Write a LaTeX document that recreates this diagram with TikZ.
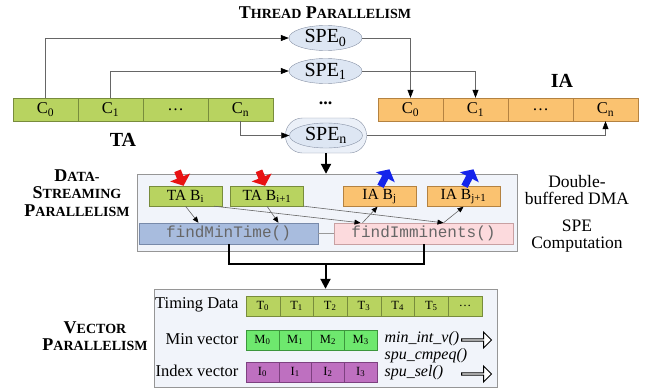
\documentclass[tikz,border=0pt]{standalone}
\usepackage{fontspec}
\setmainfont{Liberation Serif}
\setmonofont{Liberation Mono}
\usetikzlibrary{shapes.geometric,shapes.arrows,arrows.meta}

\definecolor{tagreen}{RGB}{184,211,96}
\definecolor{taline}{RGB}{120,140,60}
\definecolor{iaorange}{RGB}{250,194,112}
\definecolor{ialine}{RGB}{180,130,65}
\definecolor{spefill}{RGB}{221,230,243}
\definecolor{speline}{RGB}{135,145,165}
\definecolor{boxfill}{RGB}{241,244,250}
\definecolor{boxline}{RGB}{150,150,150}
\definecolor{minfill}{RGB}{168,188,222}
\definecolor{minline}{RGB}{120,138,170}
\definecolor{immfill}{RGB}{252,218,221}
\definecolor{immline}{RGB}{200,160,162}
\definecolor{mgreen}{RGB}{110,232,110}
\definecolor{mline}{RGB}{60,150,60}
\definecolor{ipurple}{RGB}{190,112,192}
\definecolor{iline}{RGB}{125,65,128}
\definecolor{dmared}{RGB}{232,18,18}
\definecolor{dmablue}{RGB}{20,36,235}

% fake small caps: big first letter, smaller rest
\newcommand{\fakesc}[2]{{\fontsize{18}{20}\selectfont #1}{\fontsize{14}{16}\selectfont #2}}

\begin{document}
\begin{tikzpicture}[x=1pt, y=-1pt, >={Triangle[length=8pt,width=6pt,color=black]}]
        \tikzstyle{title}=[font=\bfseries\fontsize{18}{17.5}\selectfont, align=center, inner sep=0]
        \tikzstyle{link}=[draw=black!60, line width=0.6pt]
        \tikzstyle{bus}=[draw=black, line width=2pt]
        \tikzstyle{tacell}=[draw=taline, fill=tagreen, minimum width=65pt, minimum height=23pt, inner sep=0, font=\fontsize{16.5}{18}\selectfont]
        \tikzstyle{iacell}=[tacell, draw=ialine, fill=iaorange]
        \tikzstyle{spe}=[draw=speline, fill=spefill, shape=ellipse, minimum width=73pt, minimum height=25pt, inner sep=0, font=\fontsize{20}{21}\selectfont]
        \tikzstyle{buf}=[draw=taline, fill=tagreen, minimum width=73pt, minimum height=20pt, inner sep=0, font=\fontsize{15.5}{17}\selectfont]
        \tikzstyle{func}=[minimum width=179pt, minimum height=21pt, inner sep=0, text=black!60, font=\ttfamily\fontsize{16}{18}\selectfont]
        \tikzstyle{panel}=[draw=boxline, fill=boxfill, inner sep=0]
        \tikzstyle{vcell}=[draw=taline, fill=tagreen, minimum width=33.7pt, minimum height=20pt, inner sep=0, font=\fontsize{12.5}{14}\selectfont]
        \tikzstyle{fetch}=[dmared, line width=7pt, -{Triangle[length=9pt,width=21pt]}]
        \tikzstyle{store}=[dmablue, line width=7pt, -{Triangle[length=9pt,width=21pt]}]
        \tikzstyle{hollow}=[draw=black, fill=white, shape=single arrow, minimum height=30pt, minimum width=16pt, single arrow head extend=6pt, inner sep=0.5pt, line width=0.9pt]

        \useasboundingbox (0,0) rectangle (646,391);

        % thread parallelism
        \node[title](thread) at (325,13){\fakesc{T}{HREAD} \fakesc{P}{ARALLELISM}};

        \foreach \lab [count=\k from 0] in {C\textsubscript{0},C\textsubscript{1},\dots,C\textsubscript{n}}
            \node[tacell](ta\k) at (45.5+65*\k,109.5){\lab};
        \foreach \lab [count=\k from 0] in {C\textsubscript{0},C\textsubscript{1},\dots,C\textsubscript{n}}
            \node[iacell](ia\k) at (410.5+65*\k,109.5){\lab};
        \node[font=\bfseries\fontsize{20}{22}\selectfont](talab) at (123,140){TA};
        \node[font=\bfseries\fontsize{20}{22}\selectfont](ialab) at (562,81){IA};

        \node[spe](spe0) at (325.5,38){SPE\textsubscript{0}};
        \node[spe](spe1) at (325.5,71){SPE\textsubscript{1}};
        \node[font=\bfseries\fontsize{18}{19}\selectfont](more) at (325.5,103){...};
        \node[draw=speline, fill=spefill!60, rounded corners=17pt, minimum width=81pt, minimum height=35pt](spebox) at (326,135.5){};
        \node[spe](spen) at (326,135.5){SPE\textsubscript{n}};

        \draw[->, link] (ta0.north) |- (spe0.west);
        \draw[->, link] (ta1.north) |- (spe1.west);
        \draw[->, link] (ta3.south) |- (spen.west);
        \draw[->, link] (spe0.east) -| (ia0.north);
        \draw[->, link] (spe1.east) -| (ia1.north);
        \draw[->, link] (spebox.east) -| (ia3.south);

        % data-streaming parallelism
        \node[title](dstream) at (77,193){\fakesc{D}{ATA-}\\\fakesc{S}{TREAMING}\\\fakesc{P}{ARALLELISM}};
        \node[panel, minimum width=380pt, minimum height=77pt](dma) at (327,212.5){};
        \draw[->, bus, >={Triangle[length=10pt,width=10pt]}] (spebox.south) -- (spebox.south |- dma.north);

        \node[buf](tab0) at (185.5,196){TA B\textsubscript{i}};
        \node[buf](tab1) at (267,196){TA B\textsubscript{i+1}};
        \node[buf, draw=ialine, fill=iaorange](iab0) at (379.5,196.5){IA B\textsubscript{j}};
        \node[buf, draw=ialine, fill=iaorange](iab1) at (463.5,196.5){IA B\textsubscript{j+1}};
        \node[func, draw=minline, fill=minfill](mint) at (228.5,233.5){findMinTime()};
        \node[func, draw=immline, fill=immfill](immi) at (423.5,233.5){findImminents()};

        \draw[fetch] ([shift={(-8pt,15pt)}]tab0.north) -- ([xshift=-2pt]tab0.north);
        \draw[fetch] ([shift={(-8pt,15pt)}]tab1.north) -- ([xshift=-2pt]tab1.north);
        \draw[store] ([xshift=1pt]iab0.north) -- ([shift={(10pt,17pt)}]iab0.north);
        \draw[store] ([xshift=1pt]iab1.north) -- ([shift={(10pt,17pt)}]iab1.north);

        \begin{scope}[>={Triangle[length=6pt,width=5pt,color=black]}]
        \draw[->, link] (tab0.south) -- ([xshift=-30pt]mint.north);
        \draw[->, link] (tab1.south) -- ([xshift=50pt]mint.north);
        \draw[->, link] ([xshift=-8pt]tab0.south east) -- ([xshift=-63pt]immi.north);
        \draw[->, link] (tab1.south east) -- ([xshift=20pt]immi.north);
        \draw[->, link] ([xshift=-61pt]immi.north) -- ([xshift=-2pt]iab0.south);
        \draw[->, link] ([xshift=20pt]immi.north) -- (iab1.south);
        \end{scope}
        \draw[link, draw=black!40] (mint.east) -- (immi.west);

        \node[align=center, font=\fontsize{17.5}{17.5}\selectfont](dmatxt) at (577,190){Double-\\buffered DMA};
        \node[align=center, font=\fontsize{17.5}{17.5}\selectfont](spetxt) at (577,236){SPE\\Computation};

        % vector parallelism
        \coordinate (merge) at (325.5,264);
        \draw[bus] (mint.south) |- (merge) -| (immi.south);
        \node[title](vector) at (95,336){\fakesc{V}{ECTOR}\\\fakesc{P}{ARALLELISM}};
        \node[panel, minimum width=343pt, minimum height=98pt](vec) at (325.5,338){};
        \draw[->, bus, >={Triangle[length=10pt,width=10pt]}] (merge) -- (merge |- vec.north);

        \node[anchor=east, font=\fontsize{16.5}{18}\selectfont](tlab) at (242,305){Timing Data};
        \node[anchor=east, font=\fontsize{16.5}{18}\selectfont](mlab) at (242,339){Min vector};
        \node[anchor=east, font=\fontsize{16.5}{18}\selectfont](ilab) at (242,371){Index vector};

        \foreach \lab [count=\k from 0] in {T\textsubscript{0},T\textsubscript{1},T\textsubscript{2},T\textsubscript{3},T\textsubscript{4},T\textsubscript{5},\dots}
            \node[vcell](t\k) at (262.85+33.7*\k,306){\lab};
        \foreach \lab [count=\k from 0] in {M\textsubscript{0},M\textsubscript{1},M\textsubscript{2},M\textsubscript{3}}
            \node[vcell, minimum width=32.75pt, draw=mline, fill=mgreen](m\k) at (262.4+32.75*\k,340){\lab};
        \foreach \lab [count=\k from 0] in {I\textsubscript{0},I\textsubscript{1},I\textsubscript{2},I\textsubscript{3}}
            \node[vcell, minimum width=32.75pt, draw=iline, fill=ipurple](i\k) at (262.4+32.75*\k,372){\lab};

        \node[anchor=west, font=\itshape\fontsize{16}{17}\selectfont](minv) at (381,339){min\_int\_v()};
        \node[anchor=west, font=\itshape\fontsize{16}{17}\selectfont](cmpeq) at (381,356){spu\_cmpeq()};
        \node[anchor=west, font=\itshape\fontsize{16}{17}\selectfont](sel) at (381,373){spu\_sel()};
        \node[hollow](out1) at (476,340){};
        \node[hollow](out2) at (476,374){};

        \end{tikzpicture}
\end{document}
